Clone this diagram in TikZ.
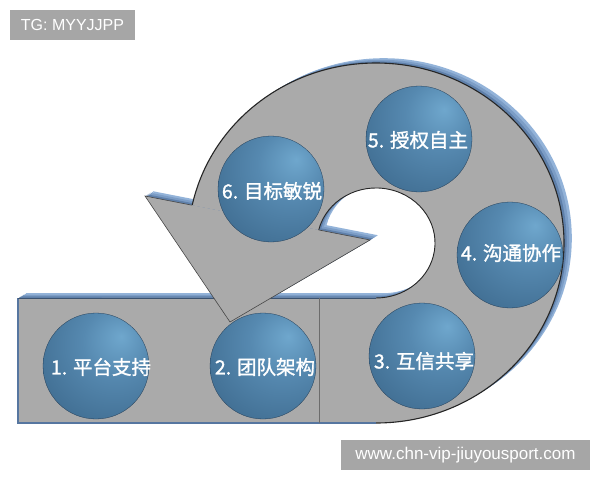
\documentclass[tikz,border=0pt]{standalone}
\usepackage{fontspec}
\setmainfont{Liberation Sans}
\newfontfamily\cjk[FakeBold=1.3]{Noto Sans CJK SC}
\definecolor{shapegray}{HTML}{AAAAAA}
\definecolor{rimA}{HTML}{93B3D9}
\definecolor{rimB}{HTML}{7C9DC6}
\definecolor{rimC}{HTML}{5F80AA}
\definecolor{edgedark}{HTML}{262626}
\definecolor{bandblue}{HTML}{5676A0}
\definecolor{sphA}{HTML}{6FA7CD}
\definecolor{sphB}{HTML}{5689B0}
\definecolor{sphC}{HTML}{3F6C90}
\definecolor{sphD}{HTML}{2C4C6C}
\definecolor{boxgray}{HTML}{A6A6A6}
\pgfdeclareradialshading{sphereshade}{\pgfpoint{12bp}{14bp}}{color(0bp)=(sphA); color(16bp)=(sphB); color(40bp)=(sphC); color(62bp)=(sphD); color(90bp)=(sphD)}
\newcommand\mainpath{(18,298) -- (18,423) -- (376,423) arc[start angle=90,end angle=-167.9,x radius=188,y radius=180] -- (318.7,229.95) arc[start angle=-166.3,end angle=90,x radius=59,y radius=55] -- cycle}
\newcommand\headpath{(145,196) -- (230,322) -- (370,240) -- cycle}
\tikzset{
  sphere/.style={circle, minimum size=106pt, inner sep=0pt, shading=sphereshade, draw=sphD!80!black, line width=0.3pt},
  lbl/.style={text=white, font=\cjk\fontsize{19.5}{22}\selectfont, inner sep=0pt},
  tagbox/.style={fill=boxgray, text=white, inner sep=0pt},
  edge/.style={draw=edgedark, line width=1.1pt},
  thinedge/.style={draw=edgedark!85, line width=0.6pt},
}
\begin{document}
\begin{tikzpicture}[x=1pt,y=-1pt]
\useasboundingbox (0,0) rectangle (600,480);
\fill[white] (0,0) rectangle (600,480);
% 3D rim
\foreach \s/\c in {6/rimA,5/rimA,4/rimB,3/rimB,2/rimC,1/rimC}{
  \fill[\c, shift={(1.3*\s,-0.8*\s)}] \mainpath;
  \fill[\c, shift={(1.3*\s,-0.8*\s)}] \headpath;
}
% main body
\fill[shapegray] \mainpath;
\draw[edge] (376,423) arc[start angle=90,end angle=-167.9,x radius=188,y radius=180];
\draw[edge, line width=0.9pt] (318.7,229.95) arc[start angle=-166.3,end angle=90,x radius=59,y radius=55];
\draw[bandblue, line width=1.6pt] (18,298) -- (18,423) -- (376,423);
\draw[bandblue!70!black, line width=0.7pt] (18,298) -- (376,298);
\draw[gray!85!black, line width=0.6pt] (319,298) -- (319,423);
% arrow head
\fill[shapegray] \headpath;
\draw[thinedge] (192,205.2) -- (145,196) -- (230,322) -- (370,240) -- (318.7,229.95);
% spheres
\node[sphere] (c1) at (96,366) {};
\node[sphere] (c2) at (263,366) {};
\node[sphere] (c3) at (422,356) {};
\node[sphere] (c4) at (510,255) {};
\node[sphere] (c5) at (419,139) {};
\node[sphere] (c6) at (271,189) {};
\node[lbl] (t1) at (101,367) {1. 平台支持};
\node[lbl] (t2) at (265,367) {2. 团队架构};
\node[lbl] (t3) at (424,361) {3. 互信共享};
\node[lbl] (t4) at (511,253) {4. 沟通协作};
\node[lbl] (t5) at (418,140) {5. 授权自主};
\node[lbl] (t6) at (272,191) {6. 目标敏锐};
% tags
\node[tagbox, minimum width=125pt, minimum height=30pt, font=\fontsize{16}{18}\selectfont] (tg) at (72.5,25) {TG: MYYJJPP};
\node[tagbox, minimum width=249pt, minimum height=30pt, font=\fontsize{17}{19}\selectfont] (wm) at (465.5,455) {www.chn-vip-jiuyousport.com};
\end{tikzpicture}
\end{document}
